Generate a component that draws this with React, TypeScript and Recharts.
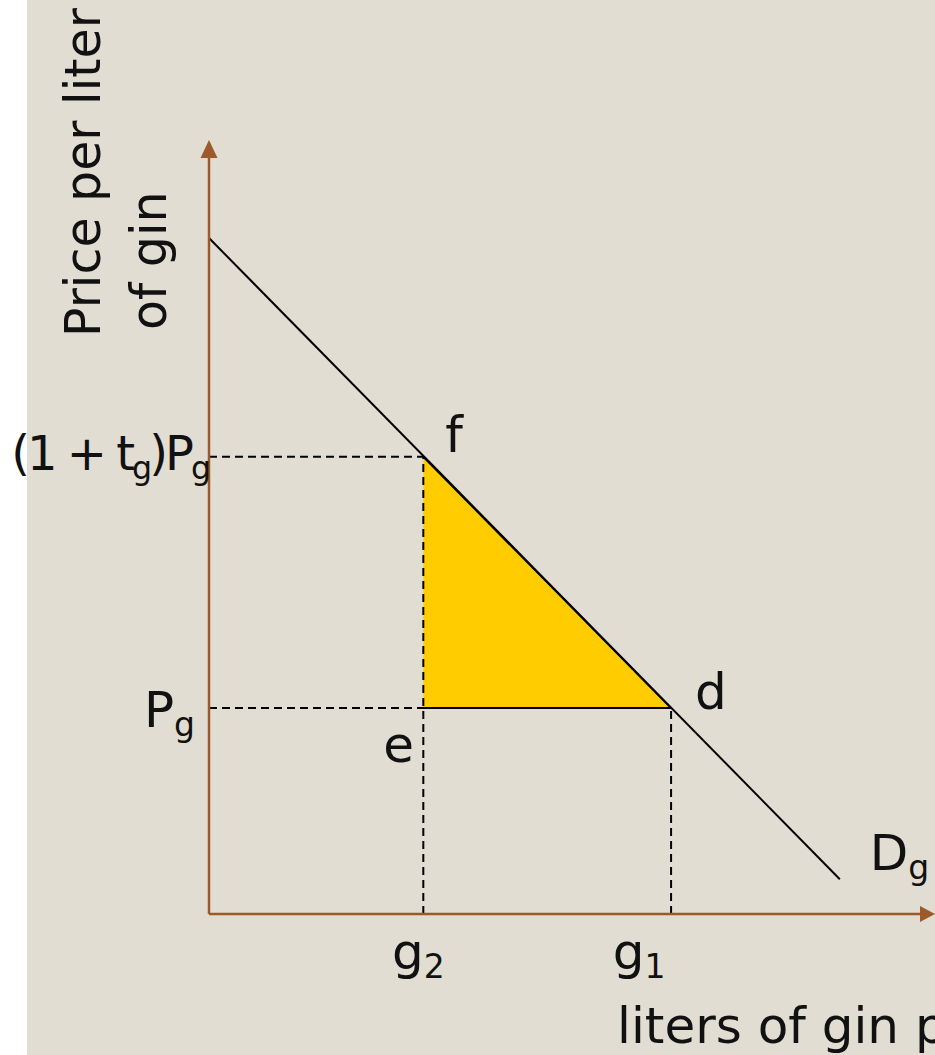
import {
  ComposedChart,
  Line,
  Area,
  XAxis,
  YAxis,
  ReferenceLine,
  ReferenceDot,
} from "recharts"

// demand curve end points (quantity, price) in chart units 0..100
const demandQty = [0, 88.6]
const demandPrice = [89.3, 4.6]

// g2 = quantity after tax, g1 = quantity before tax
const quantities = [30.1, 64.9]
const qtyTickLabels = [
  ["g", "_2"],
  ["g", "_1"],
]

// Pg = price before tax, (1 + tg)Pg = price with tax
const prices = [27.2, 60.4]
const priceTickLabels = [
  ["P", "_g"],
  ["(1 + t", "_g", ")P", "_g"],
]

const BG = "#E2DDD2"
const BROWN = "#9C5A2A"
const GOLD = "#FFCC00"
const FONT = "'DejaVu Sans', sans-serif"
const SUB_SHIFT = 9

const demandData = demandQty.map((q, i) => ({ q, p: demandPrice[i] }))
const [g2, g1] = quantities
const [pg, taxed] = prices

// triangle f-e-d as a range area
const triangle = [
  { q: g2, band: [pg, taxed] },
  { q: g1, band: [pg, pg] },
]

function Rich({ parts, size = 50, ...rest }: any) {
  let shift = 0
  return (
    <text fontFamily={FONT} fontSize={size} fill="#111" {...rest}>
      {parts.map((p: string, i: number) => {
        const sub = p.startsWith("_")
        const target = sub ? SUB_SHIFT : 0
        const dy = target - shift
        shift = target
        return (
          <tspan key={i} dy={dy} fontSize={sub ? size * 0.66 : size}>
            {sub ? p.slice(1) : p}
          </tspan>
        )
      })}
    </text>
  )
}

function QtyTick({ x, y, payload }: any) {
  const i = quantities.indexOf(payload.value)
  const dx = [-5, -32][i]
  return (
    <Rich parts={qtyTickLabels[i]} x={x + dx} y={y + 55} textAnchor="middle" />
  )
}

function PriceTick({ x, y, payload }: any) {
  const i = prices.indexOf(payload.value)
  const dx = [-14, -1][i]
  const dy = [19, 13][i]
  const size = [50, 48][i]
  const spacing = [0, -3][i]
  return (
    <Rich
      parts={priceTickLabels[i]}
      x={x + dx}
      y={y + dy}
      size={size}
      textAnchor="end"
      letterSpacing={spacing}
    />
  )
}

const pointLabel = (parts: string[], dx: number, dy: number) => (p: any) =>
  <Rich parts={parts} x={p.cx + dx} y={p.cy + dy} />

const yTitle = () => (
  <g fontFamily={FONT} fontSize={49} fill="#111">
    <text transform="translate(100,337) rotate(-90)">Price per liter</text>
    <text transform="translate(166,330) rotate(-90)">of gin</text>
  </g>
)

const xTitle = () => (
  <text x={617} y={1043} fontFamily={FONT} fontSize={50} fill="#111">
    liters of gin per year
  </text>
)

const dashed = { stroke: "#000", strokeWidth: 2, strokeDasharray: "8 5" }

export default function App() {
  return (
    <div
      style={{
        position: "absolute",
        left: 0,
        top: 0,
        width: 935,
        height: 1055,
        background: "#fff",
        overflow: "hidden",
      }}
    >
      <div
        style={{
          position: "absolute",
          left: 27,
          top: 0,
          width: 908,
          height: 1055,
          background: BG,
        }}
      />
      <div style={{ position: "absolute", left: 0, top: 0 }}>
        <ComposedChart
          width={935}
          height={1055}
          margin={{ top: 157, right: 14, bottom: 0, left: 0 }}
        >
          <XAxis
            type="number"
            dataKey="q"
            domain={[0, 100]}
            ticks={quantities}
            allowDataOverflow
            height={141}
            tickSize={0}
            tickMargin={0}
            tickLine={false}
            axisLine={{ stroke: BROWN, strokeWidth: 2.5 }}
            tick={QtyTick}
            interval={0}
            label={xTitle}
          />
          <YAxis
            type="number"
            domain={[0, 100]}
            ticks={prices}
            allowDataOverflow
            width={209}
            tickSize={0}
            tickMargin={0}
            tickLine={false}
            axisLine={{ stroke: BROWN, strokeWidth: 2.5 }}
            tick={PriceTick}
            interval={0}
            label={yTitle}
          />
          <Area
            data={triangle}
            dataKey="band"
            type="linear"
            fill={GOLD}
            fillOpacity={1}
            stroke="#000"
            strokeWidth={2}
            isAnimationActive={false}
          />
          <Line
            data={demandData}
            dataKey="p"
            type="linear"
            stroke="#000"
            strokeWidth={2}
            dot={false}
            isAnimationActive={false}
          />
          <ReferenceLine segment={[{ x: 0, y: taxed }, { x: g2, y: taxed }]} {...dashed} />
          <ReferenceLine segment={[{ x: 0, y: pg }, { x: g1, y: pg }]} {...dashed} />
          <ReferenceLine segment={[{ x: g2, y: 0 }, { x: g2, y: taxed }]} {...dashed} />
          <ReferenceLine segment={[{ x: g1, y: 0 }, { x: g1, y: pg }]} {...dashed} />
          <ReferenceDot x={g2} y={taxed} r={1} ifOverflow="visible" shape={pointLabel(["f"], 22, -5)} />
          <ReferenceDot x={g1} y={pg} r={1} ifOverflow="visible" shape={pointLabel(["d"], 24, 1)} />
          <ReferenceDot x={g2} y={pg} r={1} ifOverflow="visible" shape={pointLabel(["e"], -40, 54)} />
          <ReferenceDot
            x={demandQty[1]}
            y={demandPrice[1]}
            r={1}
            ifOverflow="visible"
            shape={pointLabel(["D", "_g"], 30, -9)}
          />
          <ReferenceDot
            x={100}
            y={0}
            r={1}
            ifOverflow="visible"
            shape={(p: any) => (
              <polygon
                points={`${p.cx - 1},${p.cy - 8} ${p.cx + 14},${p.cy} ${p.cx - 1},${p.cy + 8}`}
                fill={BROWN}
              />
            )}
          />
          <ReferenceDot
            x={0}
            y={100}
            r={1}
            ifOverflow="visible"
            shape={(p: any) => (
              <polygon
                points={`${p.cx - 8.5},${p.cy + 1} ${p.cx},${p.cy - 17} ${p.cx + 8.5},${p.cy + 1}`}
                fill={BROWN}
              />
            )}
          />
        </ComposedChart>
      </div>
    </div>
  )
}
